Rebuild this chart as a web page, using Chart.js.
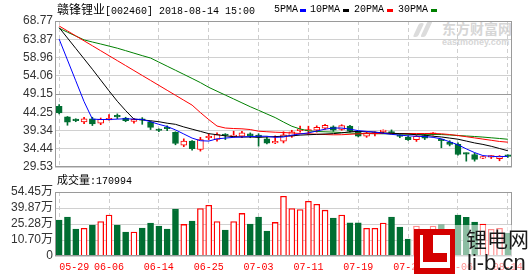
<!DOCTYPE html>
<html><head><meta charset="utf-8">
<script src="https://cdn.jsdelivr.net/npm/chart.js@4.4.1/dist/chart.umd.min.js"></script>
<style>
html,body{margin:0;padding:0;background:#fff;}
#wrap{position:relative;width:530px;height:276px;overflow:hidden;background:#fff;}
canvas{position:absolute;left:0;top:0;}
.t{position:absolute;white-space:nowrap;}
.mono{font-family:'Liberation Mono',monospace;font-size:10px;}
.cjk{font-family:'Noto Sans CJK SC',sans-serif;}
.mk{position:absolute;width:6px;height:3px;top:9px;}
</style></head><body>
<div id="wrap">
  <!-- eastmoney watermark -->
  <div class="t" style="left:416px;top:23px;width:5px;height:14px;background:#dcdcdc;transform:skewX(-25deg);border-radius:2px;"></div>
  <div class="t" style="left:424px;top:21px;width:5px;height:16px;background:#dcdcdc;transform:skewX(-25deg);border-radius:2px;"></div>
  <div class="t cjk" style="left:442px;top:20px;font-size:14px;font-weight:bold;line-height:16px;color:#d6d6d6;">东方财富网</div>
  <div class="t" style="left:442px;top:37px;font-family:'Liberation Sans';font-size:9px;font-weight:bold;line-height:10px;color:#d6d6d6;">eastmoney.com</div>

  <canvas id="k" width="530" height="276"></canvas>
  <canvas id="v" width="530" height="276"></canvas>

  <!-- header -->
  <div class="t cjk" style="left:57px;top:2px;font-size:12px;line-height:14px;color:#000;">赣锋锂业<span class="mono">[002460] 2018-08-14 15:00</span></div>
  <div class="t mono" style="left:274px;top:4px;line-height:12px;color:#000;">5PMA</div>
  <div class="mk" style="left:300px;background:#0000ff;"></div>
  <div class="t mono" style="left:310px;top:4px;line-height:12px;color:#000;">10PMA</div>
  <div class="mk" style="left:343px;background:#000;"></div>
  <div class="t mono" style="left:354px;top:4px;line-height:12px;color:#000;">20PMA</div>
  <div class="mk" style="left:387px;background:#ff0000;"></div>
  <div class="t mono" style="left:398px;top:4px;line-height:12px;color:#000;">30PMA</div>
  <div class="mk" style="left:431px;background:#008000;"></div>

  <div class="t cjk" style="left:57px;top:172px;font-size:11px;line-height:14px;color:#000;">成交量<span class="mono">:<span id="lastVol"></span></span></div>

  <!-- li-b.cn logo -->
  <div class="t" style="left:410px;top:225px;width:120px;height:51px;background:rgba(255,255,255,0.55);"></div>
  <div class="t" style="left:414px;top:229px;width:41px;height:45px;background:#d40000;"></div>
  <div class="t" style="left:420px;top:235px;width:30px;height:33px;background:#fff;"></div>
  <div class="t" style="left:423px;top:235px;width:10px;height:27px;background:#d40000;"></div>
  <div class="t" style="left:423px;top:253px;width:24px;height:9px;background:#d40000;"></div>
  <div class="t cjk" style="left:466px;top:225px;font-size:21px;line-height:26px;color:#1a1a1a;">锂电网</div>
  <div class="t" style="left:467px;top:251px;font-family:'Liberation Sans';font-size:22px;line-height:24px;color:#1a1a1a;">li-b.cn</div>
</div>
<script>
const dates = ["05-29","05-30","05-31","06-01","06-04","06-05","06-06","06-07","06-08","06-11","06-12","06-13","06-14","06-15","06-19","06-20","06-21","06-22","06-25","06-26","06-27","06-28","06-29","07-02","07-03","07-04","07-05","07-06","07-09","07-10","07-11","07-12","07-13","07-16","07-17","07-18","07-19","07-20","07-23","07-24","07-25","07-26","07-27","07-30","07-31","08-01","08-02","08-03","08-06","08-07","08-08","08-09","08-10","08-13","08-14"];
const opens  = [45.84,43.00,42.15,41.66,42.47,41.30,42.20,43.20,42.70,41.80,42.30,41.55,39.50,40.00,38.88,35.40,36.47,34.24,37.40,36.93,38.20,37.70,37.80,38.45,38.10,37.10,36.00,36.50,37.80,39.30,39.20,39.40,39.95,40.30,39.60,40.50,38.90,37.80,38.40,39.05,39.00,37.90,37.55,36.90,38.00,38.30,36.90,36.20,35.60,33.20,32.90,31.90,32.20,31.75,32.50];
const highs  = [46.29,43.10,42.50,42.90,42.90,42.70,43.60,43.80,42.90,42.60,42.80,41.90,39.80,40.60,39.00,37.10,36.60,37.50,38.45,38.70,38.50,39.15,39.10,38.70,38.45,37.55,37.90,39.00,39.40,40.50,40.50,40.60,41.00,40.60,40.90,40.70,39.10,38.90,39.00,39.50,39.50,38.20,37.90,38.00,38.30,38.80,37.00,36.60,36.00,33.30,33.30,32.30,32.60,32.60,32.80];
const lows   = [43.80,40.75,41.70,41.20,40.67,40.90,42.10,42.50,41.70,41.30,41.00,39.60,39.00,39.30,35.50,35.00,34.06,33.80,36.90,36.50,36.90,37.50,37.40,37.40,35.13,35.70,35.80,36.00,37.50,38.90,38.30,38.90,39.60,39.10,39.40,38.90,37.60,37.50,37.90,38.60,38.40,37.40,36.70,36.40,36.90,38.10,34.70,35.20,32.70,31.10,31.10,31.80,31.80,31.20,32.10];
const closes = [44.07,41.55,42.00,42.47,41.13,42.36,42.50,43.00,42.00,42.36,42.10,40.20,39.35,39.85,35.85,36.47,34.45,36.93,37.60,38.26,38.00,37.90,38.70,37.90,37.55,35.93,36.20,38.20,38.98,39.50,39.40,40.20,40.75,39.40,40.67,39.15,37.80,38.70,38.55,39.20,38.65,37.75,36.90,37.80,37.30,38.50,36.60,35.60,32.90,33.00,31.60,32.00,32.30,32.45,32.40];
const ma5  = [63.9,58.3,52.7,47.1,42.4,42.3,42.3,42.4,42.5,42.4,42.3,41.7,41.0,40.4,39.5,38.4,37.3,36.6,36.5,37.1,37.3,37.5,37.6,37.7,37.8,37.8,37.5,37.6,38.1,38.4,38.7,39.2,39.7,40.0,40.0,39.7,39.3,39.1,38.9,38.6,38.3,38.1,37.9,37.8,37.7,37.5,37.1,36.3,35.5,34.4,33.4,32.6,32.4,32.3,32.4];
const ma10 = [67.0,64.2,61.4,58.6,55.8,52.9,50.0,47.2,44.7,42.4,42.2,41.95,41.7,41.3,41.0,40.3,39.7,39.1,38.5,38.2,37.9,37.7,37.6,37.6,37.5,37.6,37.7,37.8,37.9,38.1,38.2,38.3,38.4,38.5,38.7,39.0,39.1,39.0,38.9,38.7,38.6,38.5,38.4,38.2,38.1,37.8,37.6,37.3,37.0,36.5,36.0,35.6,35.1,34.5,33.9];
const ma20 = [67.43,66.10,64.77,63.44,62.11,60.78,59.45,58.12,56.79,55.46,54.13,52.80,51.47,50.14,48.81,47.48,46.16,44.15,42.28,40.54,40.00,39.87,39.79,39.60,39.15,39.01,38.88,38.80,38.67,38.53,38.45,38.34,38.26,38.18,38.21,38.32,38.45,38.53,38.53,38.53,38.53,38.53,38.53,38.53,38.53,38.53,38.45,38.26,37.99,37.67,37.35,37.03,36.71,36.39,36.20];
const ma30 = [66.82,65.77,64.73,63.69,63.12,62.59,62.03,61.46,60.80,60.13,59.46,58.82,57.72,56.62,55.53,54.43,53.33,52.21,50.95,49.90,48.86,47.82,46.77,45.73,44.77,43.78,42.81,41.61,40.49,39.74,39.25,39.07,38.99,38.91,38.80,38.67,38.53,38.51,38.48,38.45,38.42,38.40,38.37,38.34,38.32,38.29,38.26,38.13,37.99,37.86,37.73,37.57,37.38,37.19,36.98];
const volumes = [28.8,31.5,20.7,21.3,24.3,27.6,33.4,24.3,17.9,17.9,21.6,26.1,23.4,20.7,38.8,24.9,27.9,39.4,42.4,27.6,19.8,27.6,34.9,25.2,31.5,18.9,26.7,50.6,39.4,38.5,46.0,43.3,37.9,30.6,33.4,26.4,26.4,21.3,21.3,26.1,31.5,22.5,11.6,23.4,15.0,23.4,24.6,14.6,33.4,31.3,27.0,25.2,20.4,21.3,17.0994];
const priceTicks = [29.53,34.44,39.34,44.25,49.15,54.06,58.96,63.87,68.77];
const volTicks = [-3.87,10.70,25.28,39.87,54.45];
const volTickLabels = ["0","10.70万","25.28万","39.87万","54.45万"];
const lastVolume = "170994";

const RED = '#ff0000', GREEN = '#006e32';
const isUp = i => closes[i] >= opens[i];
const candleColor = c => isUp(c.dataIndex) ? RED : GREEN;
const candleFill = c => isUp(c.dataIndex) ? '#ffffff' : GREEN;

document.getElementById('lastVol').textContent = lastVolume;

const frame = {
  id: 'frame',
  afterDraw(chart) {
    const {ctx, chartArea: a} = chart;
    ctx.save();
    ctx.strokeStyle = '#9a9a9a';
    ctx.lineWidth = 1;
    ctx.strokeRect(Math.round(a.left) + 0.5, Math.round(a.top) + 0.5, Math.round(a.right - a.left) - 1, Math.round(a.bottom - a.top) - 1);
    ctx.restore();
  }
};

const xGrid = {
  offset: false,
  drawTicks: false,
  color: c => (c.index % 6 === 0 ? '#cfcfcf' : 'rgba(0,0,0,0)'),
  lineWidth: 1
};

const common = {
  responsive: false,
  animation: false,
  events: [],
  plugins: {legend: {display: false}, tooltip: {enabled: false}}
};

const lineDs = (data, color) => ({type: 'line', data, borderColor: color, borderWidth: 1, pointRadius: 0, tension: 0, fill: false, order: 0});

new Chart(document.getElementById('k'), {
  type: 'bar',
  data: {
    labels: dates,
    datasets: [
      lineDs(ma5, '#0000ff'),
      lineDs(ma10, '#000000'),
      lineDs(ma20, '#ff0000'),
      lineDs(ma30, '#008000'),
      {data: dates.map((d, i) => [opens[i], closes[i]]), backgroundColor: candleFill, borderColor: candleColor,
       borderWidth: 1, borderSkipped: false, barThickness: 6, minBarLength: 1.5, grouped: false, order: 1},
      {data: dates.map((d, i) => [lows[i], highs[i]]), backgroundColor: candleColor, borderWidth: 0,
       barThickness: 1, grouped: false, order: 2}
    ]
  },
  options: Object.assign({}, common, {
    layout: {padding: {left: 0, right: 18, top: 21, bottom: 109}},
    scales: {
      x: {offset: true, grid: xGrid, border: {display: false, dash: [4, 3]},
          ticks: {display: false, autoSkip: false}, afterFit: s => { s.height = 0; }},
      y: {min: priceTicks[0], max: priceTicks[priceTicks.length - 1],
          afterBuildTicks: s => { s.ticks = priceTicks.map(v => ({value: v})); },
          ticks: {autoSkip: false, callback: v => v.toFixed(2), color: '#333', padding: 2, font: {family: "'Liberation Sans'", size: 12}},
          grid: {drawTicks: false, color: c => (c.tick && c.tick.value === 49.15 ? '#9a9a9a' : '#d0d0d0')},
          border: {display: false},
          afterFit: s => { s.width = 55; }}
    }
  }),
  plugins: [frame]
});

const xLabels = {
  id: 'xLabels',
  afterDraw(chart) {
    const {ctx, chartArea: a, scales: {x}} = chart;
    ctx.save();
    ctx.fillStyle = '#ff0000';
    ctx.font = "10px 'Liberation Mono'";
    ctx.textBaseline = 'alphabetic';
    dates.forEach((d, i) => {
      if (i % 6 !== 0) return;
      const px = x.getPixelForValue(i);
      ctx.textAlign = i === 0 ? 'left' : 'center';
      ctx.fillText(d, px, a.bottom + 14);
    });
    ctx.restore();
  }
};

new Chart(document.getElementById('v'), {
  type: 'bar',
  data: {
    labels: dates,
    datasets: [{
      data: volumes.map(v => [volTicks[0], v]),
      backgroundColor: candleFill, borderColor: candleColor, borderWidth: 1.3, borderSkipped: false, barThickness: 6
    }]
  },
  options: Object.assign({}, common, {
    layout: {padding: {left: 0, right: 18, top: 192, bottom: 0}},
    scales: {
      x: {offset: true, grid: xGrid, border: {display: false, dash: [4, 3]},
          ticks: {display: false, autoSkip: false}, afterFit: s => { s.height = 20; }},
      y: {min: volTicks[0], max: volTicks[volTicks.length - 1],
          afterBuildTicks: s => { s.ticks = volTicks.map(v => ({value: v})); },
          ticks: {autoSkip: false, callback: (v, i) => volTickLabels[i], color: '#333', padding: 2, font: {family: "'Liberation Sans','Noto Sans CJK SC'", size: 12}},
          grid: {drawTicks: false, color: '#d0d0d0'},
          border: {display: false},
          afterFit: s => { s.width = 55; }}
    }
  }),
  plugins: [frame, xLabels]
});
</script>
</body></html>
